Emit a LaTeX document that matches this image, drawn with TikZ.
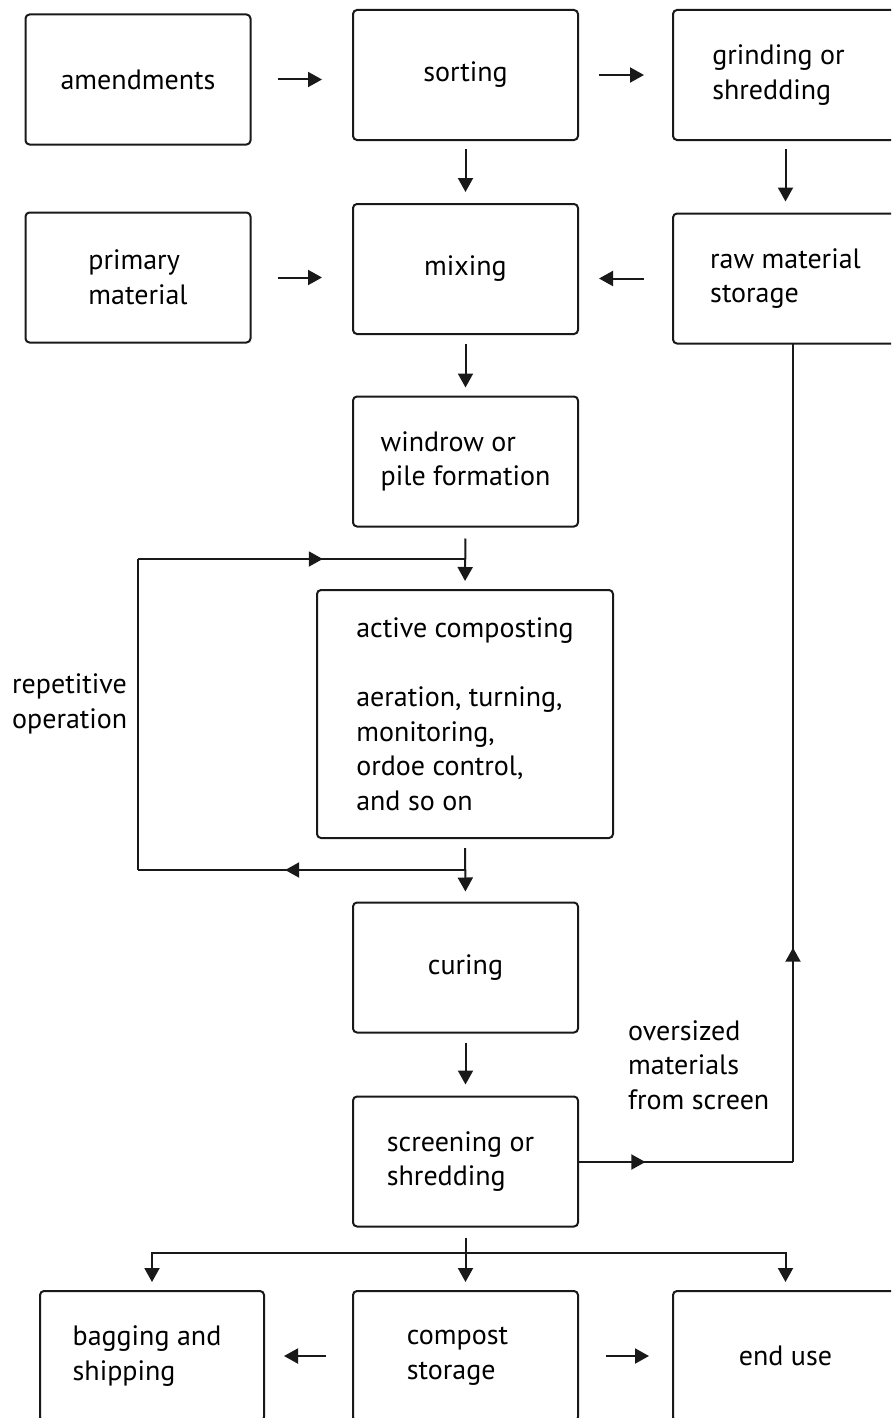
\documentclass[tikz,border=0pt]{standalone}
\usepackage{fontspec}
\setmainfont{PT Sans}
\usetikzlibrary{arrows.meta,decorations.markings}
\begin{document}
\begin{tikzpicture}[x=1pt,y=-1pt,
  box/.style={draw=black!90, line width=2pt, rounded corners=4pt, minimum width=225pt, minimum height=130pt, inner sep=0pt, align=left, font=\fontsize{28}{34.5}\selectfont},
  txt/.style={align=left, inner sep=0pt, font=\fontsize{28}{34.5}\selectfont},
  conn/.style={draw=black!90, line width=2pt, -{Triangle[length=14pt,width=15pt]}},
  line/.style={draw=black!90, line width=2pt},
  midarrow/.style={postaction={decorate, decoration={markings, mark=at position #1 with {\arrow{Triangle[length=14pt,width=15pt]}}}}},
]
\useasboundingbox (0,0) rectangle (891,1418);
\clip (0,0) rectangle (891,1418);
% boxes
\node[box] (amend)   at (138,79.5)  {amendments};
\node[box] (sorting) at (465.5,75)  {\raisebox{-4pt}{sorting}};
\node[box] (grind)   at (785.5,75)  {\hspace*{-14pt}grinding or\\\hspace*{-14pt}shredding};
\node[box] (primary) at (138,277.5) {primary\\material};
\node[box] (mixing)  at (465.5,269) {mixing};
\node[box] (raw)     at (785.5,278.5) {raw material\\storage};
\node[box] (windrow) at (465.5,461.5) {windrow or\\pile formation};
\node[box, minimum width=296pt, minimum height=248pt] (active) at (465,714)
  {active composting\\[34.5pt]aeration, turning,\\monitoring,\\ordoe control,\\and so on};
\node[box] (curing)  at (465.5,967.5) {curing};
\node[box] (screen)  at (465.5,1161.5) {\hspace*{-10pt}screening or\\\hspace*{-10pt}shredding};
\node[box, minimum width=224pt] (bagging) at (152,1356) {\hspace*{-10pt}bagging and\\\hspace*{-10pt}shipping};
\node[box] (compost) at (465.5,1356) {\hspace*{-16pt}compost\\\hspace*{-16pt}storage};
\node[box] (enduse)  at (785.5,1356) {end use};
% labels
\node[txt, anchor=west] (rep) at (12,704) {repetitive\\operation};
\node[txt, anchor=west] (over) at (628,1065) {oversized\\materials\\from screen};
% horizontal arrows
\draw[conn, shorten <=26pt, shorten >=30pt] (amend.east) -- (amend.east -| sorting.west);
\draw[conn, shorten <=20pt, shorten >=28pt] (sorting.east) -- (sorting.east -| grind.west);
\draw[conn, shorten <=26pt, shorten >=30pt] (primary.east) -- (primary.east -| mixing.west);
\draw[conn, shorten <=28pt, shorten >=20pt] (raw.west) -- (raw.west -| mixing.east);
\draw[conn, shorten <=26pt, shorten >=19pt] (compost.west) -- (compost.west -| bagging.east);
\draw[conn, shorten <=27pt, shorten >=23pt] (compost.east) -- (compost.east -| enduse.west);
% vertical arrows
\draw[conn, shorten <=8pt, shorten >=11pt] (sorting.south) -- (mixing.north);
\draw[conn, shorten <=8pt, shorten >=11pt] (grind.south) -- (raw.north);
\draw[conn, shorten <=9pt, shorten >=8pt] (mixing.south) -- (windrow.north);
\draw[conn, shorten <=11pt, shorten >=8pt] (windrow.south) -- (active.north);
\draw[conn, shorten <=9pt, shorten >=10pt] (active.south) -- (curing.north);
\draw[conn, shorten <=9pt, shorten >=11pt] (curing.south) -- (screen.north);
% loop
\coordinate (lt) at (465,559);
\coordinate (lb) at (465,870);
\coordinate (ltl) at (138,559);
\coordinate (lbl) at (138,870);
\draw[line, midarrow=0.55] (lb) -- (lbl);
\draw[line] (lbl) -- (ltl);
\draw[line, midarrow=0.565] (ltl) -- (lt);
% oversized return
\coordinate (rt) at (793,1162);
\coordinate (rtop) at (793,344);
\draw[line, midarrow=0.31] (screen.east |- rt) -- (rt);
\draw[line, midarrow=0.262] (rt) -- (rtop);
% split
\coordinate (split) at (465.5,1253);
\draw[conn, shorten <=10pt, shorten >=8pt] (screen.south) -- (compost.north);
\draw[conn, shorten >=8pt] (split) -| (bagging.north);
\draw[conn, shorten >=8pt] (split) -| (enduse.north);
\end{tikzpicture}
\end{document}
